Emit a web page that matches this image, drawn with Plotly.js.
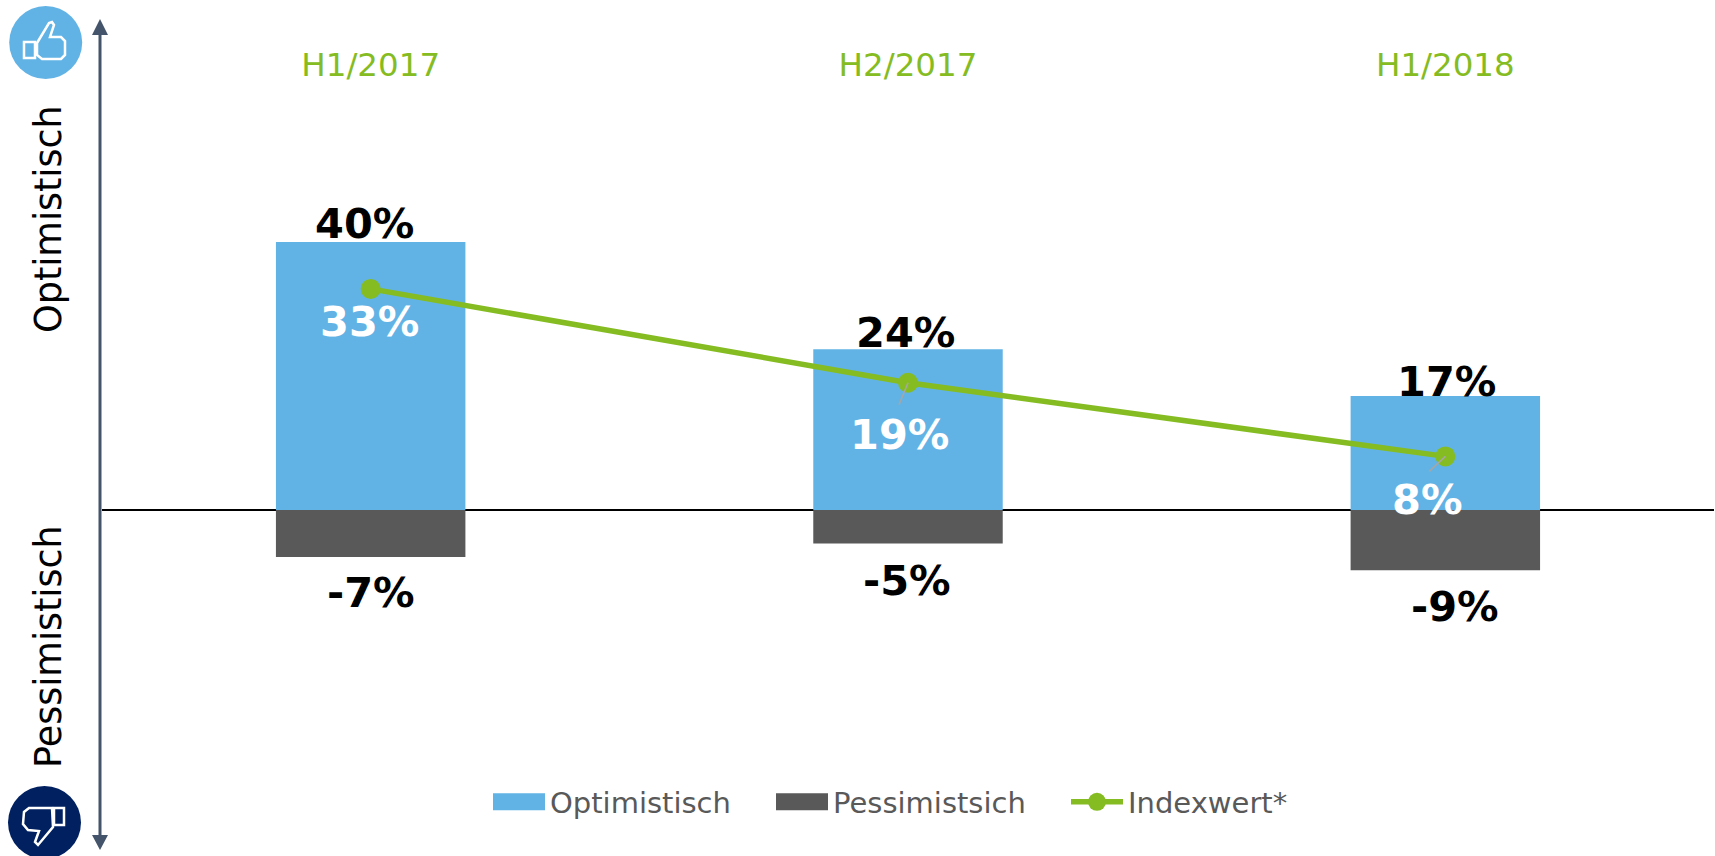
<!DOCTYPE html>
<html><head><meta charset="utf-8">
<script src="https://cdn.plot.ly/plotly-3.0.1.min.js"></script>
<style>html,body{margin:0;padding:0;background:#fff;overflow:hidden}#c{width:1715px;height:856px}</style>
</head><body><div id="c"></div>
<script>
const categories = ['H1/2017', 'H2/2017', 'H1/2018'];
const optimistisch = [40, 24, 17];
const pessimistisch = [-7, -5, -9];
const indexwert = [33, 19, 8];

const W = 1715, H = 856, mL = 102, mR = 1, mT = 83, mB = 0;
const pxPerPct = 6.7, zeroPx = 510;
const px = x => (x - mL) / (W - mL - mR);
const py = y => 1 - (y - mT) / (H - mT - mB);
const GREEN = '#85BC22', BLUE = '#62B3E5', DARK = '#595959', SLATE = '#44546A', NAVY = '#002060';
const FONT = '"DejaVu Sans", Verdana, sans-serif';

const poly = pts => pts.map((p, i) => (i ? 'L' : 'M') + px(p[0]) + ',' + py(p[1])).join(' ') + ' Z';
const paperShape = o => Object.assign({xref: 'paper', yref: 'paper', layer: 'above'}, o);
const circle = (cx, cy, r, c) => paperShape({type: 'circle', x0: px(cx - r), x1: px(cx + r), y0: py(cy - r), y1: py(cy + r), fillcolor: c, line: {width: 0}});
const outline = pts => paperShape({type: 'path', path: poly(pts), line: {color: '#fff', width: 2.5}, fillcolor: 'rgba(0,0,0,0)'});

const leaderOffsets = [null, [-9, -22], [-16, -15]];
const leaders = leaderOffsets.map((o, i) => o && {
  type: 'line', layer: 'above', xref: 'x', yref: 'y', xsizemode: 'pixel', ysizemode: 'pixel',
  xanchor: categories[i], yanchor: indexwert[i], x0: 0, y0: 0, x1: o[0], y1: o[1],
  line: {color: '#A6A6A6', width: 1.5}
}).filter(Boolean);

const shapes = [
  paperShape({type: 'line', x0: px(100), x1: px(100), y0: py(30), y1: py(840), line: {color: SLATE, width: 3}}),
  paperShape({type: 'path', path: poly([[100, 19], [108, 35], [92, 35]]), fillcolor: SLATE, line: {width: 0}}),
  paperShape({type: 'path', path: poly([[100, 850], [108, 835], [92, 835]]), fillcolor: SLATE, line: {width: 0}}),
  circle(45.7, 42.5, 36.5, BLUE),
  outline([[24, 42], [35, 42], [35, 58], [24, 58]]),
  outline([[37, 43], [49, 23], [52, 22], [54, 25], [50, 37], [61, 37], [65, 41], [65, 55], [61, 59], [42, 59], [37, 55]]),
  circle(44.5, 822.5, 36.5, NAVY),
  outline([[54, 808], [64, 808], [64, 825], [54, 825]]),
  outline([[52, 808], [29, 808], [24, 812], [23, 824], [28, 830], [39, 831], [35, 842], [38, 845], [53, 827]]),
  ...leaders
];

const fmt = v => v + '%';
const valueLabel = (i, v, dx, dy, color) => ({
  x: categories[i], y: v, xref: 'x', yref: 'y', xshift: dx, yshift: dy, text: fmt(v), showarrow: false,
  xanchor: 'center', yanchor: 'middle', font: {family: FONT, size: 41.5, color: color, weight: 700}
});
const optShift = [[-6, 19], [-3, 16.5], [1.5, 15]];
const pesShift = [[0, -36], [-1, -36.5], [9.5, -36]];
const idxShift = [[-1, -33], [-9, -52], [-18.5, -43]];
const annotations = [
  ...optimistisch.map((v, i) => valueLabel(i, v, optShift[i][0], optShift[i][1], '#000')),
  ...pessimistisch.map((v, i) => valueLabel(i, v, pesShift[i][0], pesShift[i][1], '#000')),
  ...indexwert.map((v, i) => valueLabel(i, v, idxShift[i][0], idxShift[i][1], '#fff')),
  {x: px(48), y: py(219), xref: 'paper', yref: 'paper', xanchor: 'center', yanchor: 'middle', text: 'Optimistisch', textangle: -90, showarrow: false, font: {family: FONT, size: 36.5, color: '#000'}},
  {x: px(48), y: py(647), xref: 'paper', yref: 'paper', xanchor: 'center', yanchor: 'middle', text: 'Pessimistisch', textangle: -90, showarrow: false, font: {family: FONT, size: 36.5, color: '#000'}}
];

const data = [
  {type: 'bar', name: 'Optimistisch', x: categories, y: optimistisch, marker: {color: BLUE}, width: 0.3526, hoverinfo: 'skip'},
  {type: 'bar', name: 'Pessimistsich', x: categories, y: pessimistisch, marker: {color: DARK}, width: 0.3526, hoverinfo: 'skip'},
  {type: 'scatter', mode: 'lines+markers', name: 'Indexwert*', x: categories, y: indexwert, line: {color: GREEN, width: 5.5}, marker: {color: GREEN, size: 20}, hoverinfo: 'skip'}
];

const layout = {
  width: W, height: H, margin: {l: mL, r: mR, t: mT, b: mB, pad: 0},
  paper_bgcolor: '#fff', plot_bgcolor: 'rgba(0,0,0,0)', barmode: 'relative', font: {family: FONT},
  xaxis: {type: 'category', side: 'top', showgrid: false, zeroline: false, showline: false, ticks: '', tickfont: {family: FONT, size: 32.5, color: GREEN}, range: [-0.5, 2.5], fixedrange: true},
  yaxis: {range: [(zeroPx - H) / pxPerPct, (zeroPx - mT) / pxPerPct], showgrid: false, showticklabels: false, ticks: '', showline: false, zeroline: true, zerolinecolor: '#000', zerolinewidth: 1.5, fixedrange: true},
  showlegend: true,
  legend: {orientation: 'h', x: px(488), xanchor: 'left', y: py(802), yanchor: 'middle', itemwidth: 52, entrywidth: 228, font: {family: FONT, size: 29, color: DARK}, bgcolor: 'rgba(0,0,0,0)', traceorder: 'normal', itemclick: false, itemdoubleclick: false},
  shapes, annotations
};

Plotly.newPlot('c', data, layout, {displayModeBar: false, staticPlot: true}).then(() => {
  const items = document.querySelectorAll('.legend .traces');
  items.forEach((g, i) => {
    if (i < 2) g.querySelectorAll('.legendpoints path').forEach(p => p.setAttribute('d', 'M26,8.5H-26V-8.5H26Z'));
    else g.querySelectorAll('.legendsymbols path').forEach(p => p.setAttribute('d', 'M9,0A9,9 0 1,1 0,-9A9,9 0 0,1 9,0Z'));
    if (i > 0) {
      const m = /translate\(([-\d.]+)[ ,]+([-\d.]+)\)/.exec(g.getAttribute('transform') || '');
      if (m) g.setAttribute('transform', 'translate(' + (parseFloat(m[1]) - 12) + ',' + m[2] + ')');
    }
  });
});
</script></body></html>
